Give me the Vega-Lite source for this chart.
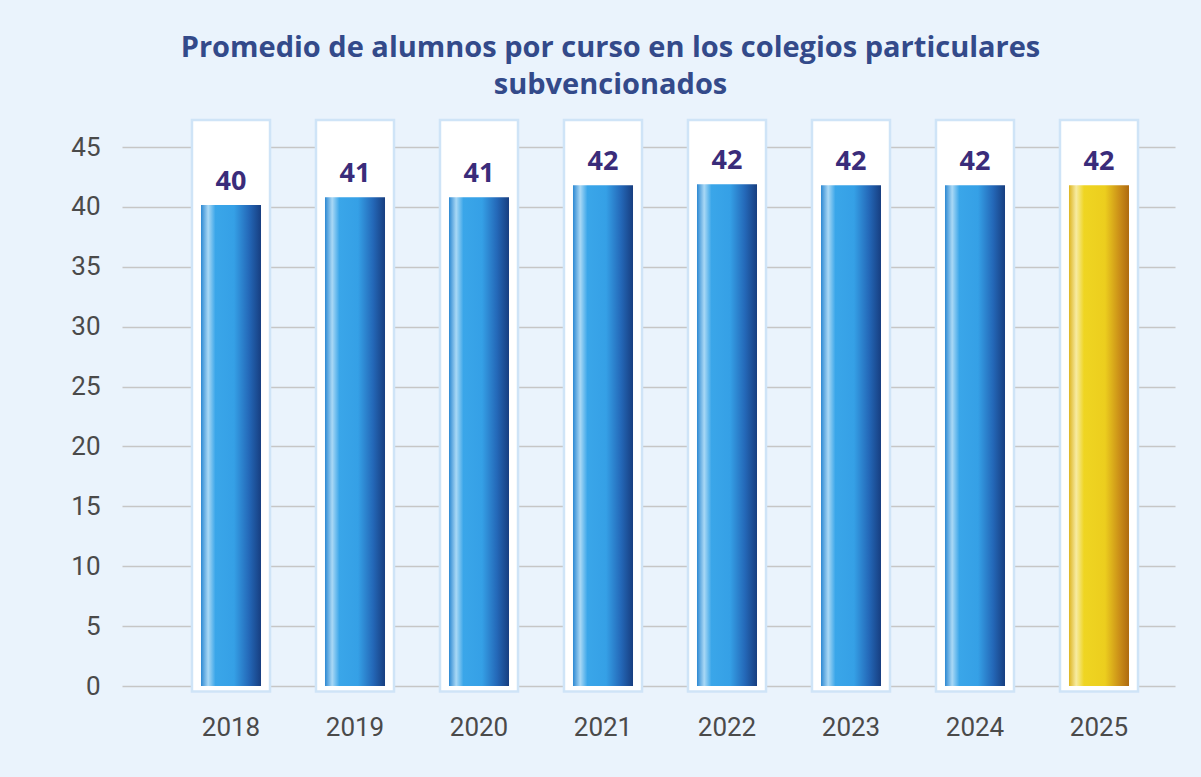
{
  "$schema": "https://vega.github.io/schema/vega-lite/v6.json",
  "autosize": {"type": "none"},
  "width": 1053,
  "height": 539,
  "padding": {"left": 122, "top": 147, "right": 26, "bottom": 91},
  "background": "#EAF3FC",
  "title": {
    "text": ["Promedio de alumnos por curso en los colegios particulares", "subvencionados"],
    "font": "Open Sans",
    "fontSize": 29,
    "fontWeight": "bold",
    "color": "#334A8A",
    "anchor": "middle",
    "frame": "group",
    "dx": -38,
    "offset": 19,
    "lineHeight": 37
  },
  "data": {
    "values": [
      {"year": "2018", "value": 40.15},
      {"year": "2019", "value": 40.8},
      {"year": "2020", "value": 40.8},
      {"year": "2021", "value": 41.8},
      {"year": "2022", "value": 41.9},
      {"year": "2023", "value": 41.8},
      {"year": "2024", "value": 41.8},
      {"year": "2025", "value": 41.8}
    ]
  },
  "encoding": {
    "x": {
      "field": "year",
      "type": "nominal",
      "sort": null,
      "scale": {"paddingInner": 0.516, "paddingOuter": 0.504, "align": 0.632},
      "axis": {
        "title": null,
        "labelAngle": 0,
        "domain": false,
        "ticks": false,
        "grid": false,
        "labelFont": "Roboto",
        "labelFontSize": 26,
        "labelColor": "#4A4A4A",
        "labelPadding": 28
      }
    }
  },
  "layer": [
    {
      "mark": {"type": "bar", "width": {"band": 1.3}, "fill": "#FFFFFF", "stroke": "#CFE4F7", "strokeWidth": 2.5, "clip": false},
      "encoding": {
        "y": {"datum": 47.25, "type": "quantitative", "scale": {"domain": [0, 45], "nice": false, "zero": true},
          "axis": {
            "title": null,
            "values": [0, 5, 10, 15, 20, 25, 30, 35, 40, 45],
            "domain": false,
            "ticks": false,
            "grid": true,
            "gridColor": "#C6C6C6",
            "gridWidth": 1.5,
            "labelFont": "Roboto",
            "labelFontSize": 26,
            "labelColor": "#4A4A4A",
            "labelPadding": 22
          }},
        "y2": {"datum": -0.45}
      }
    },
    {
      "transform": [{"filter": "datum.year != '2025'"}],
      "mark": {
        "type": "bar",
        "width": {"band": 1},
        "fill": {
          "gradient": "linear", "x1": 0, "x2": 1, "y1": 0, "y2": 0,
          "stops": [
            {"offset": 0, "color": "#2C88D2"},
            {"offset": 0.12, "color": "#A9D8F5"},
            {"offset": 0.24, "color": "#3AA6E9"},
            {"offset": 0.55, "color": "#35A0E6"},
            {"offset": 0.8, "color": "#2468B8"},
            {"offset": 1, "color": "#173E80"}
          ]
        }
      },
      "encoding": {
        "y": {"field": "value", "type": "quantitative"}
      }
    },
    {
      "transform": [{"filter": "datum.year == '2025'"}],
      "mark": {
        "type": "bar",
        "width": {"band": 1},
        "fill": {
          "gradient": "linear", "x1": 0, "x2": 1, "y1": 0, "y2": 0,
          "stops": [
            {"offset": 0, "color": "#DDB520"},
            {"offset": 0.12, "color": "#F7EBA2"},
            {"offset": 0.25, "color": "#EFD522"},
            {"offset": 0.6, "color": "#ECCE1E"},
            {"offset": 0.85, "color": "#C98C18"},
            {"offset": 1, "color": "#AE6A10"}
          ]
        }
      },
      "encoding": {
        "y": {"field": "value", "type": "quantitative"}
      }
    },
    {
      "mark": {"type": "text", "baseline": "alphabetic", "dy": -15, "font": "Open Sans", "fontSize": 27, "fontWeight": "bold", "color": "#3A2C7A"},
      "encoding": {
        "y": {"field": "value", "type": "quantitative"},
        "text": {"field": "value", "type": "quantitative", "format": ".0f"}
      }
    }
  ],
  "config": {"view": {"stroke": null}}
}
